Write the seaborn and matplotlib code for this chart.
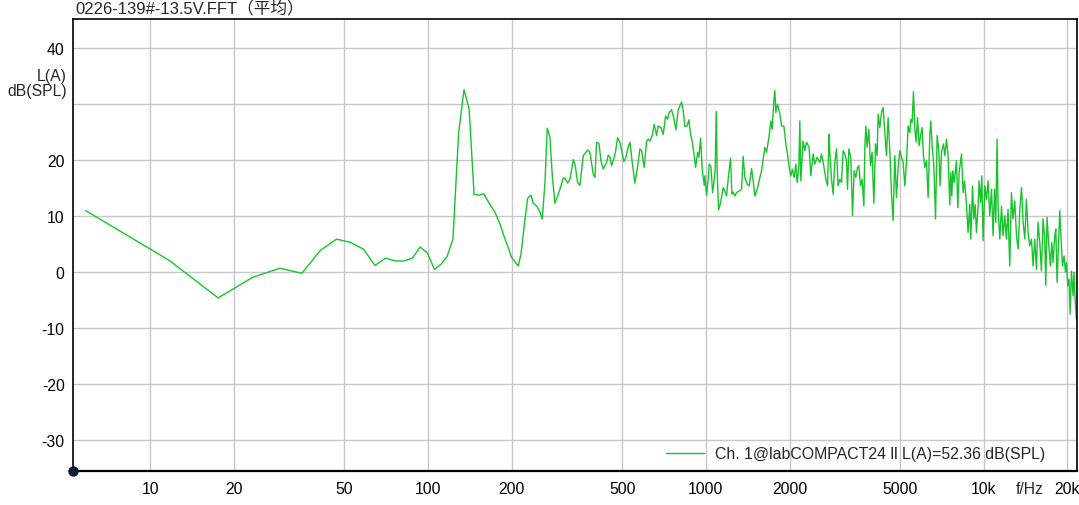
import matplotlib
matplotlib.use("Agg")
import matplotlib.pyplot as plt
import seaborn as sns
import pandas as pd

# ---- data ----
freq_low = [5.86, 11.72, 17.58, 23.44, 29.30, 35.16, 41.02, 46.88, 52.73, 58.59,
            64.45, 70.31, 76.17, 82.03, 87.89, 93.75, 99.61, 105.47, 111.33, 117.19]
level_low = [11.0, 2.1, -4.6, -0.9, 0.7, -0.2, 3.9, 5.9, 5.3, 4.1,
             1.2, 2.5, 2.0, 2.0, 2.5, 4.5, 3.4, 0.5, 1.4, 2.8]

freq_mid = [123.0, 128.9, 134.8, 140.6, 146.5, 152.3, 158.6, 167.1, 174.2, 181.6,
            189.3, 194.4, 200.0, 211.3, 216.1, 223.4, 228.4, 234.7, 239.2, 246.0,
            252.9, 257.8, 263.6, 268.7, 274.8, 280.1, 286.4, 294.3, 301.0, 306.8,
            311.1, 318.2, 324.3, 333.3, 338.0, 345.5, 352.2, 362.0, 375.4, 382.6,
            393.2, 398.8, 404.4, 412.3, 419.2, 427.2, 439.3, 445.3, 451.6, 458.0,
            468.0, 473.5, 481.3, 490.6, 497.6, 507.1, 515.6, 525.5, 533.0, 543.2,
            555.5, 566.2, 579.0, 587.2, 600.0, 611.8, 620.2, 629.0, 641.1, 651.8,
            664.7, 673.7, 689.0, 702.2, 716.4, 728.2, 738.0, 752.8, 767.3, 780.2,
            795.1, 817.9, 828.7, 840.5, 856.5, 868.8, 881.1, 892.8, 907.8, 918.4,
            933.7, 943.9, 957.2, 970.0, 986.3, 991.9]
level_mid = [5.9, 24.9, 32.6, 29.2, 13.9, 13.75, 14.0, 12.1, 10.7, 8.6,
             5.9, 4.4, 2.6, 1.1, 3.2, 9.5, 13.2, 13.75, 12.3, 11.8,
             10.7, 9.5, 16.0, 25.7, 24.0, 17.2, 12.3, 13.9, 15.4, 16.8,
             16.8, 15.9, 16.6, 20.1, 19.3, 16.0, 15.5, 20.8, 21.8, 21.4,
             17.5, 16.9, 23.2, 23.0, 19.9, 18.4, 19.6, 20.9, 20.5, 19.0,
             20.5, 21.7, 24.0, 23.2, 21.7, 19.7, 20.5, 22.4, 23.2, 19.6,
             15.9, 18.4, 22.0, 21.7, 18.7, 23.4, 23.75, 23.4, 24.4, 26.4,
             24.4, 26.1, 25.8, 24.6, 27.9, 27.3, 28.5, 29.0, 27.4, 25.4,
             29.0, 30.4, 28.8, 26.0, 26.1, 27.2, 24.6, 23.4, 20.8, 18.7,
             21.4, 20.5, 23.9, 18.4, 15.5, 17.2]

freq_high1 = [1005.8, 1019.5, 1028.0, 1042.6, 1057.3, 1068.8, 1080.5, 1089.4, 1098.4, 1110.9,
              1129.5, 1154.1, 1170.5, 1186.7, 1202.9, 1227.1, 1240.4, 1253.8, 1271.6, 1289.2,
              1317.4, 1343.8, 1361.7, 1381.0, 1408.0, 1431.7, 1460.4, 1479.9, 1500.9, 1529.3,
              1564.0, 1586.2, 1607.3, 1630.2, 1652.7, 1685.0, 1713.1, 1731.6, 1756.3, 1770.9,
              1785.6, 1811.0, 1846.0, 1872.2, 1908.2, 1940.1, 1967.0, 1993.4, 2021.6, 2050.1,
              2077.8, 2107.3, 2129.9, 2160.1, 2178.0, 2196.1, 2238.3, 2270.1, 2301.6, 2352.3,
              2385.6, 2431.5, 2466.1, 2514.0, 2571.0, 2607.5, 2657.6, 2702.1, 2740.1, 2776.9,
              2793.0, 2832.7, 2870.4, 2911.1, 2951.4, 2991.5, 3034.0, 3077.1, 3118.0, 3162.3,
              3206.2, 3233.6, 3268.9, 3323.4, 3370.2, 3415.6, 3464.1, 3513.2, 3551.5, 3601.8,
              3649.8, 3701.7, 3732.5, 3763.6, 3804.1, 3858.0, 3912.6, 3964.7, 4021.1, 4078.3,
              4132.3, 4166.8, 4226.0, 4286.0, 4343.1, 4404.8, 4466.0, 4526.7, 4591.0, 4656.2,
              4718.2, 4785.2, 4852.1, 4918.2, 4988.0, 5058.8, 5126.2, 5199.0, 5270.4, 5342.1,
              5418.0, 5463.0, 5522.0, 5585.4, 5647.2, 5708.4, 5774.6, 5852.1, 5934.9, 5999.0,
              6067.9, 6135.0, 6220.8, 6305.5, 6395.0, 6448.1, 6517.8, 6610.5, 6704.5, 6793.4,
              6889.8, 6964.4, 7045.6, 7161.6, 7240.9, 7341.4, 7441.3]
level_high1 = [13.7, 16.6, 19.3, 18.9, 14.2, 16.0, 18.4, 28.7, 17.8, 11.1,
               12.4, 15.1, 14.5, 13.6, 16.6, 20.4, 13.9, 14.3, 13.6, 14.2,
               14.5, 14.8, 20.7, 16.9, 15.7, 15.4, 18.5, 16.3, 13.6, 14.8,
               16.9, 18.1, 20.2, 22.3, 21.4, 24.0, 27.0, 25.5, 30.6, 32.4,
               28.5, 30.0, 28.2, 26.1, 26.1, 22.9, 21.1, 18.7, 17.2, 18.4,
               16.9, 19.3, 16.0, 18.7, 27.0, 16.3, 23.4, 21.7, 23.2, 22.3,
               17.2, 21.1, 19.3, 20.5, 19.6, 21.1, 18.9, 16.6, 15.4, 24.6,
               21.4, 16.6, 13.9, 19.6, 22.0, 15.4, 16.6, 16.0, 21.7, 21.1,
               19.9, 14.8, 22.0, 20.5, 10.1, 18.1, 16.9, 18.7, 19.0, 15.4,
               16.6, 11.8, 22.3, 26.1, 22.3, 25.5, 19.0, 21.4, 12.3, 22.9,
               20.8, 28.2, 25.8, 28.5, 29.4, 24.9, 20.8, 27.6, 21.7, 13.9,
               9.2, 20.8, 13.3, 18.7, 21.7, 20.5, 19.6, 15.4, 19.6, 26.1,
               24.9, 27.3, 26.7, 32.2, 25.5, 23.2, 27.6, 22.6, 24.6, 25.8,
               20.8, 18.7, 19.9, 13.3, 24.4, 27.0, 22.6, 19.0, 9.5, 24.4,
               21.7, 15.4, 21.4, 22.9, 20.8, 23.75, 20.8]

freq_high2 = [7547, 7610, 7673, 7737, 7821, 7976, 8064, 8152, 8316, 8426,
              8525, 8664, 8781, 8906, 8980, 9107, 9206, 9307, 9411, 9541,
              9620, 9732, 9838, 9944, 10085, 10224, 10363, 10510, 10659, 10801,
              10927, 11046, 11165, 11260, 11420, 11582, 11736, 11903, 12062, 12226,
              12400, 12576, 12743, 12925, 13113, 13291, 13480, 13671, 13853, 14050,
              14241, 14435, 14640, 14848, 15046, 15259, 15467, 15677, 15900, 16126,
              16340, 16573, 16711, 16891, 17138, 17380, 17569, 17759, 18011, 18161,
              18357, 18568, 18770, 18973, 19193, 19451, 19679, 19834, 20055, 20273,
              20441, 20680, 20955, 21130, 21308, 21546]
level_high2 = [12.0, 17.8, 13.6, 18.1, 16.0, 19.9, 11.5, 17.8, 21.1, 14.2,
               16.3, 12.1, 7.1, 12.1, 5.9, 15.4, 9.5, 12.1, 7.1, 11.8,
               16.3, 12.4, 17.2, 5.6, 15.4, 13.0, 16.3, 10.1, 14.8, 6.5,
               14.8, 8.9, 23.75, 11.25, 5.9, 11.8, 6.5, 10.1, 5.9, 11.25,
               1.1, 14.2, 9.5, 12.7, 6.5, 4.1, 11.25, 15.1, 8.9, 5.9,
               13.0, 7.1, 4.7, 5.9, 1.1, 5.9, 0.5, 8.9, 5.3, 0.2,
               9.5, 5.9, -2.4, 9.8, 4.7, 1.1, 5.3, 1.7, 6.5, 7.7,
               -1.8, 4.7, 11.0, 5.9, 1.1, 2.9, 0.0, 1.7, -2.4, -1.25,
               -7.5, 0.2, -4.2, 0.0, -4.8, -8.4]

x_ticks = [10, 20, 50, 100, 200, 500, 1000, 2000, 5000, 10000, 20000]
x_ticklabels = ["10", "20", "50", "100", "200", "500", "1000", "2000", "5000", "10k", "20k"]
y_ticks = [-30, -20, -10, 0, 10, 20, 30, 40]
y_ticklabels = ["-30", "-20", "-10", "0", "10", "20", "", "40"]

title = "0226-139#-13.5V.FFT（平均）"
series_label = "Ch. 1@labCOMPACT24 ll L(A)=52.36 dB(SPL)"
y_unit = "L(A)\ndB(SPL)"
x_unit = "f/Hz"

df = pd.DataFrame({
    "f": freq_low + freq_mid + freq_high1 + freq_high2,
    "L": level_low + level_mid + level_high1 + level_high2,
})
df["series"] = series_label

# ---- style ----
sns.set_style("white")
plt.rcParams["font.family"] = ["Liberation Sans", "Noto Sans CJK SC", "DejaVu Sans"]

W, H = 1079, 506
fig = plt.figure(figsize=(W / 100, H / 100), dpi=100)
ax = fig.add_axes([73 / W, 34 / H, (1077 - 73) / W, (472 - 20) / H])

green = "#17c42c"
sns.lineplot(data=df, x="f", y="L", hue="series", palette=[green],
             estimator=None, sort=False, linewidth=1.0, ax=ax)

ax.set_xscale("log")
ax.set_xlim(5.28, 21650)
ax.set_ylim(-35.5, 45.2)

ax.set_xticks(x_ticks)
ax.set_xticklabels(x_ticklabels)
ax.xaxis.set_minor_locator(matplotlib.ticker.NullLocator())
ax.set_yticks(y_ticks)
ax.set_yticklabels(y_ticklabels)
ax.tick_params(axis="both", length=0, labelsize=11.3, colors="black")
ax.tick_params(axis="x", pad=7)
ax.tick_params(axis="y", pad=6)
ax.grid(True, color="#c8c8c8", linewidth=1.0)
ax.set_axisbelow(True)
ax.set_xlabel("")
ax.set_ylabel("")

for s in ax.spines.values():
    s.set_visible(True)
    s.set_color("black")
    s.set_linewidth(1.2)
ax.spines["bottom"].set_linewidth(1.6)

# corner dot
ax.plot([0], [0], marker="o", markersize=6.5, color="#0b1a33",
        transform=ax.transAxes, clip_on=False, zorder=10)

# unit labels
ax.annotate(x_unit, xy=(14600, 0), xycoords=("data", "axes fraction"),
            xytext=(0, -7), textcoords="offset points",
            ha="center", va="top", fontsize=11.3)
fig.text(67 / W, 1 - 84 / H, y_unit, ha="right", va="center",
         fontsize=11.3, linespacing=1.0)

fig.text(75 / W, 1 - 8 / H, title, ha="left", va="center", fontsize=12)

leg = ax.legend(loc="center right", bbox_to_anchor=((1045 - 73) / 1004, (472 - 455) / 452),
                frameon=False, fontsize=11.4, handlelength=2.4, handletextpad=0.7,
                borderpad=0, borderaxespad=0)

fig.savefig("out.png", dpi=100)
